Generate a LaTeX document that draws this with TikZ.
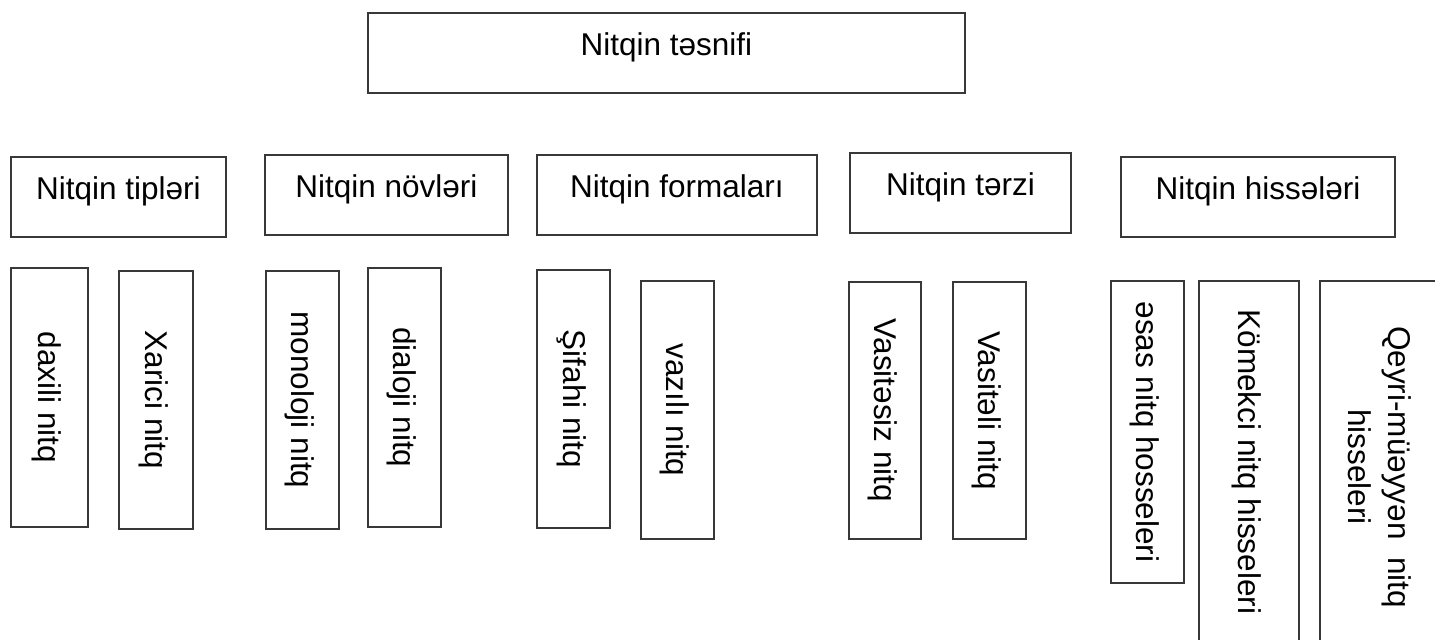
\documentclass[tikz,border=0pt]{standalone}
\usepackage{fontspec}
\setmainfont{Liberation Sans}
\usetikzlibrary{fit}
\begin{document}
\begin{tikzpicture}[x=0.5pt,y=-0.5pt,
  frame/.style={draw=black!78, line width=0.75pt, inner sep=0pt},
  head/.style={anchor=base, inner sep=0pt, font=\fontsize{15.75}{19}\selectfont},
  vlabel/.style={xshift=-1.2pt, rotate=-90, inner sep=0pt, align=center, font=\fontsize{15.75}{20}\selectfont}]
\useasboundingbox (0,0) rectangle (1435,639);
\clip (0,0) rectangle (1435,639);

% top box
\node[frame, fit={(368,13) (965,93)}] (root) {};
\node[head] (rootT) at ([yshift=-21.5pt]root.north) {Nitqin təsnifi};

% second row: categories
\node[frame, fit={(11,157) (226,237)}] (tip) {};
\node[head] (tipT) at ([yshift=-21.5pt]tip.north) {Nitqin tipləri};
\node[frame, fit={(265,155) (508,235)}] (nov) {};
\node[head] (novT) at ([yshift=-21.5pt]nov.north) {Nitqin növləri};
\node[frame, fit={(537,155) (817,235)}] (forma) {};
\node[head] (formaT) at ([yshift=-21.5pt]forma.north) {Nitqin formaları};
\node[frame, fit={(850,153) (1071,233)}] (terz) {};
\node[head] (terzT) at ([yshift=-21.5pt]terz.north) {Nitqin tərzi};
\node[frame, fit={(1121,157) (1395,237)}] (hisse) {};
\node[head] (hisseT) at ([yshift=-21.5pt]hisse.north) {Nitqin hissələri};

% third row: vertical boxes
\node[frame, fit={(11,268) (88,527)}] (daxili) {};
\node[vlabel] (daxiliT) at (daxili) {daxili nitq};
\node[frame, fit={(119,271) (193,529)}] (xarici) {};
\node[vlabel] (xariciT) at (xarici) {Xarici nitq};

\node[frame, fit={(266,271) (339,529)}] (mono) {};
\node[vlabel] (monoT) at (mono) {monoloji nitq};
\node[frame, fit={(368,268) (441,527)}] (dia) {};
\node[vlabel] (diaT) at (dia) {dialoji nitq};

\node[frame, fit={(537,270) (610,528)}] (sifahi) {};
\node[vlabel] (sifahiT) at (sifahi) {Şifahi nitq};
\node[frame, fit={(641,281) (714,539)}] (yazili) {};
\node[vlabel] (yaziliT) at (yazili) {vazılı nitq};

\node[frame, fit={(849,282) (921,539)}] (vsiz) {};
\node[vlabel] (vsizT) at (vsiz) {Vasitəsiz nitq};
\node[frame, fit={(953,282) (1026,539)}] (vli) {};
\node[vlabel] (vliT) at (vli) {Vasitəli nitq};

\node[frame, fit={(1111,281) (1184,583)}] (esas) {};
\node[vlabel] (esasT) at (esas) {əsas nitq hosseleri};
\node[frame, fit={(1199,281) (1299,643)}] (komek) {};
\node[vlabel] (komekT) at (komek) {Kömekci nitq hisseleri};
\node[frame, fit={(1320,281) (1445,653)}] (qeyri) {};
\node[vlabel] (qeyriT) at (qeyri) {Qeyri-müəyyən\ \ nitq\\hisseleri};
\end{tikzpicture}
\end{document}
